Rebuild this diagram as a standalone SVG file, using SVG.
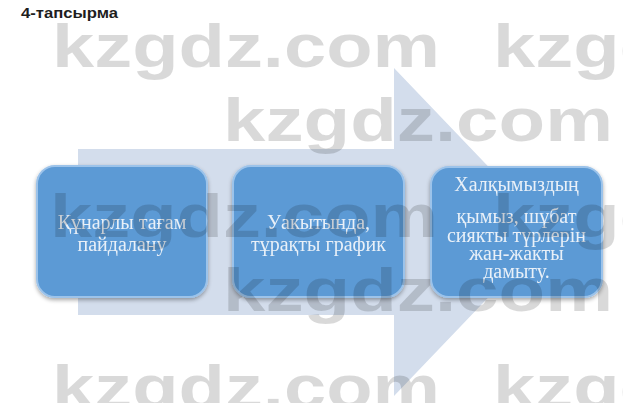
<svg xmlns="http://www.w3.org/2000/svg" width="623" height="403" viewBox="0 0 623 403">
  <style>
    .title { font-family: "Liberation Sans", Arial, sans-serif; font-weight: bold; font-size: 14.5px; fill: #1e1e1e; }
    .box { fill: #5b9ad5; stroke: #9cc3ea; stroke-width: 2; }
    .label { font-family: "Liberation Serif", "Times New Roman", serif; font-size: 20px; fill: #e9f0f8; text-anchor: middle; }
    .arrow { fill: #d3ddec; }
    .wm { font-family: "Liberation Sans", Arial, sans-serif; font-weight: bold; font-size: 62px; fill: #000; fill-opacity: 0.15; }
  </style>
  <defs>
    <filter id="shadow" x="-10%" y="-10%" width="120%" height="130%">
      <feGaussianBlur in="SourceAlpha" stdDeviation="2"/>
      <feOffset dy="2"/>
      <feComponentTransfer><feFuncA type="linear" slope="0.35"/></feComponentTransfer>
      <feMerge><feMergeNode/><feMergeNode in="SourceGraphic"/></feMerge>
    </filter>
  </defs>
  <rect width="623" height="403" fill="#ffffff"/>
  <text class="title" x="21" y="18" textLength="97" lengthAdjust="spacingAndGlyphs">4-тапсырма</text>

  <g id="connectors">
    <path class="arrow" d="M78 149 H394 V68 L551 232 L394 396 V315 H78 Z"/>
  </g>

  <g id="node1" filter="url(#shadow)">
    <rect class="box" x="37" y="166" width="170" height="131" rx="18"/>
    <text class="label" x="122" y="229">Құнарлы тағам</text>
    <text class="label" x="122" y="251">пайдалану</text>
  </g>
  <g id="node2" filter="url(#shadow)">
    <rect class="box" x="233" y="166" width="171" height="131" rx="18"/>
    <text class="label" x="318.5" y="229">Уакытында,</text>
    <text class="label" x="318.5" y="251">тұрақты график</text>
  </g>
  <g id="node3" filter="url(#shadow)">
    <rect class="box" x="431" y="167" width="171" height="130" rx="18"/>
    <text class="label" x="516.5" y="191">Халқымыздың</text>
    <text class="label" x="516.5" y="223">қымыз, шұбат</text>
    <text class="label" x="516.5" y="242">сиякты түрлерін</text>
    <text class="label" x="516.5" y="260">жан-жакты</text>
    <text class="label" x="516.5" y="278">дамыту.</text>
  </g>

  <g id="watermark">
    <text class="wm" x="52" y="67" textLength="388" lengthAdjust="spacingAndGlyphs">kzgdz.com</text>
    <text class="wm" x="493" y="67" textLength="388" lengthAdjust="spacingAndGlyphs">kzgdz.com</text>
    <text class="wm" x="223" y="141" textLength="390" lengthAdjust="spacingAndGlyphs">kzgdz.com</text>
    <text class="wm" x="50" y="237" textLength="388" lengthAdjust="spacingAndGlyphs">kzgdz.com</text>
    <text class="wm" x="493" y="237" textLength="388" lengthAdjust="spacingAndGlyphs">kzgdz.com</text>
    <text class="wm" x="223" y="311" textLength="390" lengthAdjust="spacingAndGlyphs">kzgdz.com</text>
    <text class="wm" x="52" y="408" textLength="388" lengthAdjust="spacingAndGlyphs">kzgdz.com</text>
    <text class="wm" x="493" y="408" textLength="388" lengthAdjust="spacingAndGlyphs">kzgdz.com</text>
  </g>
</svg>
